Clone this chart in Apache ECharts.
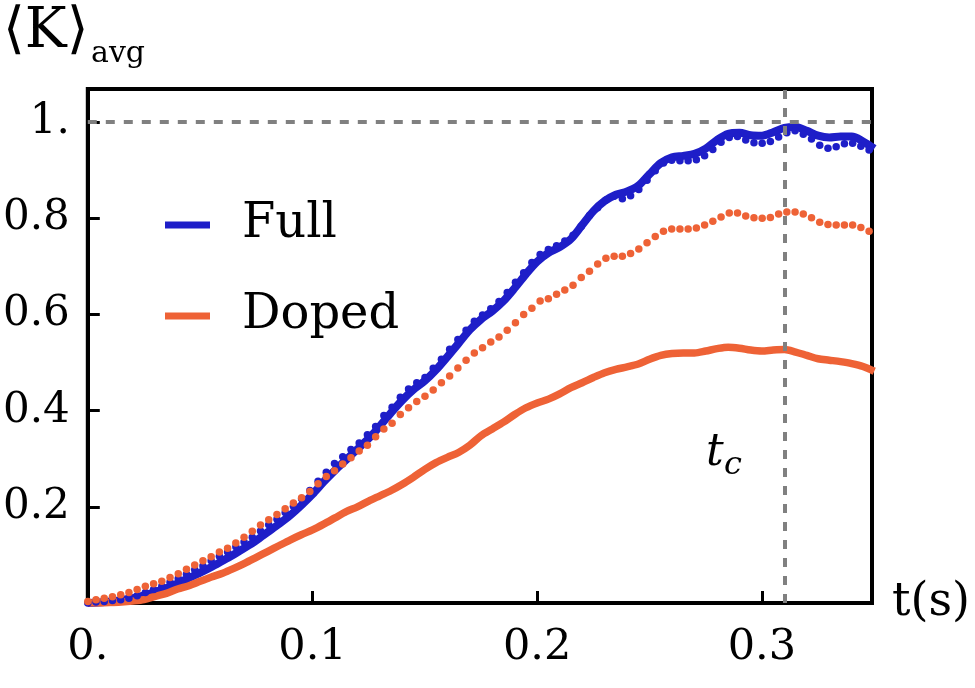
<!DOCTYPE html>
<html>
<head>
<meta charset="utf-8">
<title>K avg vs t</title>
<script src="https://cdn.jsdelivr.net/npm/echarts@6/dist/echarts.min.js"></script>
<style>
  html, body { margin: 0; padding: 0; background: #fff; }
  #chart { width: 975px; height: 688px; }
</style>
</head>
<body>
<div id="chart"></div>
<script>
// sampling of the two curves (t in seconds)
const lineStep = 0.005;   // solid curves
const dotStep = 0.00366;  // dotted curves

// solid blue: Full
const fullLine = [
  0.000, 0.001, 0.003, 0.006, 0.010, 0.016, 0.023, 0.031, 0.041, 0.052,
  0.063, 0.075, 0.088, 0.101, 0.115, 0.130, 0.147, 0.164, 0.182, 0.203,
  0.226, 0.252, 0.276, 0.298, 0.320, 0.342, 0.368, 0.396, 0.422, 0.444,
  0.462, 0.485, 0.512, 0.540, 0.568, 0.590, 0.607, 0.628, 0.655, 0.684,
  0.710, 0.728, 0.740, 0.757, 0.786, 0.815, 0.836, 0.849, 0.856, 0.868,
  0.892, 0.915, 0.927, 0.930, 0.934, 0.945, 0.963, 0.976, 0.978, 0.973,
  0.972, 0.979, 0.988, 0.990, 0.982, 0.972, 0.968, 0.970, 0.970, 0.960,
  0.945
];

// solid orange: Doped
const dopedLine = [
  0.000, 0.000, 0.001, 0.002, 0.004, 0.007, 0.014, 0.020, 0.029, 0.036,
  0.045, 0.054, 0.062, 0.072, 0.083, 0.095, 0.107, 0.119, 0.131, 0.142,
  0.152, 0.164, 0.177, 0.190, 0.200, 0.212, 0.223, 0.234, 0.247, 0.262,
  0.278, 0.292, 0.303, 0.313, 0.328, 0.348, 0.362, 0.376, 0.392, 0.406,
  0.416, 0.424, 0.435, 0.448, 0.458, 0.469, 0.479, 0.486, 0.491, 0.497,
  0.507, 0.515, 0.519, 0.520, 0.520, 0.524, 0.529, 0.532, 0.530, 0.526,
  0.524, 0.526, 0.527, 0.522, 0.515, 0.508, 0.505, 0.502, 0.498, 0.492,
  0.482
];

// blue dots
const fullDots = [
  0.000, 0.002, 0.003, 0.005, 0.007, 0.010, 0.015, 0.022, 0.028, 0.035,
  0.043, 0.051, 0.060, 0.069, 0.077, 0.088, 0.097, 0.106, 0.117, 0.127,
  0.137, 0.150, 0.163, 0.174, 0.188, 0.201, 0.217, 0.234, 0.253, 0.272,
  0.290, 0.304, 0.319, 0.333, 0.350, 0.367, 0.390, 0.407, 0.428, 0.445,
  0.458, 0.469, 0.488, 0.507, 0.528, 0.548, 0.567, 0.586, 0.599, 0.612,
  0.627, 0.646, 0.667, 0.687, 0.708, 0.725, 0.735, 0.743, 0.753, 0.765,
  0.783, 0.806, 0.822, 0.838, 0.846, 0.841, 0.847, 0.860, 0.879, 0.899,
  0.915, 0.921, 0.920, 0.920, 0.922, 0.930, 0.943, 0.958, 0.968, 0.970,
  0.963, 0.957, 0.956, 0.960, 0.969, 0.978, 0.982, 0.975, 0.965, 0.952,
  0.946, 0.949, 0.955, 0.956, 0.950, 0.942
];

// orange dots
const dopedDots = [
  0.003, 0.007, 0.010, 0.013, 0.017, 0.022, 0.028, 0.035, 0.040, 0.045,
  0.053, 0.061, 0.070, 0.079, 0.088, 0.096, 0.106, 0.114, 0.125, 0.137,
  0.149, 0.162, 0.173, 0.184, 0.196, 0.208, 0.219, 0.232, 0.248, 0.263,
  0.275, 0.289, 0.302, 0.316, 0.328, 0.346, 0.362, 0.374, 0.392, 0.406,
  0.419, 0.430, 0.443, 0.458, 0.472, 0.489, 0.505, 0.520, 0.531, 0.543,
  0.553, 0.567, 0.583, 0.600, 0.613, 0.628, 0.633, 0.642, 0.651, 0.661,
  0.677, 0.690, 0.705, 0.717, 0.721, 0.721, 0.727, 0.736, 0.749, 0.762,
  0.773, 0.778, 0.778, 0.778, 0.780, 0.786, 0.794, 0.803, 0.811, 0.811,
  0.805, 0.801, 0.800, 0.802, 0.809, 0.813, 0.813, 0.809, 0.801, 0.792,
  0.787, 0.786, 0.786, 0.786, 0.781, 0.773
];

const tCritical = 0.309;

const blue = '#1e1ec8';
const orange = '#ee6236';
const serif = 'DejaVu Serif';

function pairs(values, step) {
  return values.map((v, i) => [+(i * step).toFixed(5), v]);
}

const chart = echarts.init(document.getElementById('chart'));

chart.setOption({
  animation: false,
  backgroundColor: '#fff',
  grid: {
    left: 80, right: 103, top: 89, bottom: 85,
    show: true, borderColor: '#000', borderWidth: 4
  },
  legend: {
    orient: 'vertical',
    left: 160, top: 196,
    itemGap: 43,
    itemWidth: 45, itemHeight: 7,
    icon: 'rect',
    data: ['Full', 'Doped'],
    textStyle: {
      fontFamily: serif, fontSize: 48, color: '#000',
      padding: [0, 0, 22, 27]
    }
  },
  xAxis: {
    type: 'value',
    min: 0, max: 0.349, interval: 0.1,
    name: 't(s)',
    nameLocation: 'end',
    nameGap: 20,
    nameTextStyle: { fontFamily: serif, fontSize: 46, color: '#000', verticalAlign: 'middle', padding: [10, 0, 0, 0] },
    axisLine: { show: true, lineStyle: { color: '#000', width: 4 } },
    axisTick: { show: true, inside: true, length: 12, lineStyle: { color: '#000', width: 3 } },
    splitLine: { show: false },
    axisLabel: {
      showMaxLabel: false,
      fontFamily: serif, fontSize: 43, color: '#000', margin: 23,
      formatter: v => v === 0 ? '0.' : v.toFixed(1)
    }
  },
  yAxis: {
    type: 'value',
    min: 0, max: 1.069, interval: 0.2,
    axisLine: { show: true, lineStyle: { color: '#000', width: 4 } },
    axisTick: { show: true, inside: true, length: 12, lineStyle: { color: '#000', width: 3 } },
    splitLine: { show: false },
    axisLabel: {
      showMaxLabel: false,
      fontFamily: serif, fontSize: 42, color: '#000', margin: 18,
      formatter: v => v === 0 ? '' : (v === 1 ? '1.' : v.toFixed(1))
    }
  },
  graphic: [
    { type: 'text', left: 3, top: 4, style: { text: '\u27E8K\u27E9', font: '56px "DejaVu Serif", serif', fill: '#000' } },
    { type: 'text', left: 91, top: 39, style: { text: 'avg', font: '30px "DejaVu Serif", serif', fill: '#000' } },
    { type: 'text', left: 706, top: 432, style: { text: 't', font: 'italic 44px "DejaVu Serif", serif', fill: '#000' } },
    { type: 'text', left: 724, top: 450, style: { text: 'c', font: 'italic 32px "DejaVu Serif", serif', fill: '#000' } }
  ],
  series: [
    {
      name: 'Full',
      type: 'line',
      data: pairs(fullLine, lineStep),
      smooth: 0.3,
      showSymbol: false,
      lineStyle: { color: blue, width: 8 },
      itemStyle: { color: blue },
      z: 2,
      markLine: {
        silent: true,
        symbol: 'none',
        label: { show: false },
        lineStyle: { color: '#808080', width: 4, type: [9, 9] },
        data: [{ yAxis: 1 }, { xAxis: tCritical }]
      }
    },
    {
      name: 'Full dots',
      type: 'scatter',
      data: pairs(fullDots, dotStep),
      symbolSize: 7.5,
      itemStyle: { color: blue, opacity: 1 },
      z: 3
    },
    {
      name: 'Doped',
      type: 'line',
      data: pairs(dopedLine, lineStep),
      smooth: 0.3,
      showSymbol: false,
      lineStyle: { color: orange, width: 7.5 },
      itemStyle: { color: orange },
      z: 2
    },
    {
      name: 'Doped dots',
      type: 'scatter',
      data: pairs(dopedDots, dotStep),
      symbolSize: 7.5,
      itemStyle: { color: orange, opacity: 1 },
      z: 4
    }
  ]
});
</script>
</body>
</html>
